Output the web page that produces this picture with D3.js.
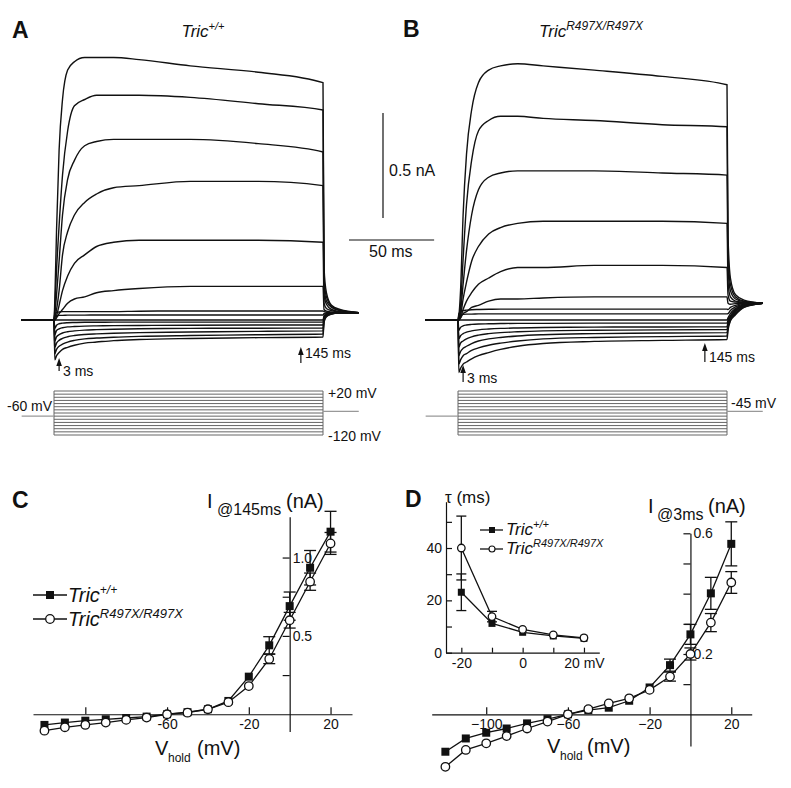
<!DOCTYPE html>
<html><head><meta charset="utf-8">
<script src="https://cdn.jsdelivr.net/npm/d3@7"></script>
<style>
body{margin:0;background:#fff;}
svg{display:block;font-family:"Liberation Sans",Arial,Helvetica,sans-serif;}
</style></head><body>
<svg id="fig" width="791" height="788"></svg>
<script>
// ---------------- DATA ----------------
// Voltage-clamp protocol (mV)
const stepVoltages = [20,10,0,-10,-20,-30,-40,-50,-60,-70,-80,-90,-100,-110,-120];
const holdPre = -60, holdPost = -45;
// Sample times (ms) for the current traces (step from 0 to 158 ms)
const traceTimes = [-19,0,0.5,1.5,3,5,8,12,18,25,35,50,80,120,158,158.6,160,163,168,179];
// Panel A traces (nA), Tric+/+, one row per step voltage
const tracesA = [
 [0,0, 0.1,0.43,0.81,1.05,1.19,1.23,1.25,1.25,1.25,1.24,1.21,1.18,1.13, 0.25,0.13,0.07,0.05,0.035],
 [0,0, 0.06,0.24,0.45,0.69,0.90,1.02,1.05,1.07,1.07,1.07,1.06,1.03,1.00, 0.2,0.11,0.065,0.045,0.035],
 [0,0, 0.03,0.12,0.28,0.50,0.67,0.76,0.83,0.85,0.86,0.86,0.86,0.84,0.80, 0.16,0.09,0.06,0.045,0.035],
 [0,0, 0.01,0.05,0.14,0.31,0.42,0.50,0.56,0.60,0.63,0.64,0.66,0.66,0.64, 0.12,0.075,0.05,0.04,0.035],
 [0,0, 0,0.02,0.07,0.14,0.21,0.27,0.31,0.35,0.37,0.38,0.38,0.38,0.37, 0.08,0.055,0.045,0.038,0.035],
 [0,0, 0,0.01,0.03,0.05,0.08,0.10,0.11,0.13,0.14,0.15,0.16,0.16,0.16, 0.05,0.042,0.038,0.035,0.035],
 [0,0, 0.03,0.035,0.038,0.04,0.04,0.04,0.04,0.04,0.04,0.042,0.043,0.043,0.043, 0.04,0.037,0.035,0.035,0.035],
 [0,0, 0.02,0.02,0.022,0.022,0.023,0.023,0.023,0.024,0.024,0.024,0.024,0.024,0.024, 0.03,0.033,0.035,0.035,0.035],
 [0,0, 0,0,0,0,0,0,0,0,0,0,0,0,0, 0.02,0.03,0.034,0.035,0.035],
 [0,0, -0.04,-0.025,-0.018,-0.015,-0.013,-0.012,-0.011,-0.011,-0.01,-0.01,-0.01,-0.01,-0.01, 0.015,0.027,0.033,0.035,0.035],
 [0,0, -0.07,-0.05,-0.042,-0.037,-0.033,-0.031,-0.029,-0.028,-0.027,-0.026,-0.025,-0.024,-0.024, 0.01,0.025,0.032,0.035,0.035],
 [0,0, -0.10,-0.08,-0.07,-0.062,-0.056,-0.052,-0.048,-0.046,-0.044,-0.042,-0.04,-0.039,-0.038, 0.005,0.022,0.031,0.034,0.035],
 [0,0, -0.13,-0.11,-0.097,-0.088,-0.08,-0.074,-0.069,-0.066,-0.063,-0.06,-0.057,-0.054,-0.052, 0,0.02,0.03,0.034,0.035],
 [0,0, -0.16,-0.14,-0.125,-0.115,-0.105,-0.097,-0.09,-0.086,-0.082,-0.078,-0.074,-0.07,-0.067, -0.005,0.018,0.029,0.034,0.035],
 [0,0, -0.19,-0.17,-0.155,-0.14,-0.13,-0.12,-0.11,-0.105,-0.098,-0.093,-0.088,-0.084,-0.081, -0.01,0.015,0.028,0.033,0.035]
];
// Panel B traces (nA), TricR497X/R497X
const tracesB = [
 [0,0, 0.02,0.14,0.50,0.79,1.0,1.13,1.19,1.21,1.22,1.21,1.19,1.16,1.12, 0.4,0.2,0.12,0.095,0.08],
 [0,0, 0.01,0.07,0.29,0.55,0.76,0.90,0.95,0.97,0.97,0.96,0.95,0.93,0.92, 0.32,0.17,0.11,0.09,0.08],
 [0,0, 0,0.04,0.17,0.33,0.50,0.62,0.68,0.70,0.71,0.71,0.71,0.70,0.69, 0.25,0.14,0.1,0.088,0.08],
 [0,0, 0,0.02,0.10,0.18,0.28,0.35,0.41,0.44,0.46,0.47,0.47,0.47,0.46, 0.18,0.11,0.09,0.085,0.08],
 [0,0, 0,0.01,0.05,0.09,0.13,0.17,0.20,0.23,0.25,0.25,0.26,0.26,0.25, 0.12,0.09,0.085,0.082,0.08],
 [0,0, 0,0.01,0.03,0.04,0.06,0.07,0.09,0.10,0.10,0.105,0.11,0.11,0.11, 0.08,0.075,0.078,0.08,0.08],
 [0,0, 0.03,0.04,0.045,0.047,0.049,0.05,0.051,0.052,0.052,0.052,0.052,0.052,0.052, 0.05,0.06,0.07,0.078,0.08],
 [0,0, 0.02,0.025,0.027,0.028,0.028,0.029,0.029,0.029,0.029,0.029,0.029,0.029,0.029, 0.03,0.045,0.062,0.075,0.08],
 [0,0, 0,0,0,0,0,0,0,0,0,0,0,0,0, 0.01,0.03,0.055,0.072,0.08],
 [0,0, -0.05,-0.035,-0.028,-0.024,-0.021,-0.019,-0.018,-0.017,-0.016,-0.016,-0.015,-0.015,-0.015, 0.0,0.02,0.05,0.07,0.08],
 [0,0, -0.09,-0.075,-0.065,-0.058,-0.052,-0.047,-0.043,-0.04,-0.038,-0.036,-0.034,-0.033,-0.032, -0.01,0.015,0.045,0.068,0.08],
 [0,0, -0.13,-0.11,-0.1,-0.09,-0.08,-0.072,-0.065,-0.06,-0.056,-0.052,-0.049,-0.047,-0.045, -0.02,0.01,0.04,0.066,0.08],
 [0,0, -0.17,-0.15,-0.135,-0.125,-0.112,-0.1,-0.09,-0.083,-0.076,-0.07,-0.065,-0.062,-0.06, -0.03,0.005,0.035,0.064,0.08],
 [0,0, -0.21,-0.19,-0.17,-0.16,-0.145,-0.133,-0.12,-0.11,-0.1,-0.09,-0.083,-0.079,-0.076, -0.04,0,0.03,0.062,0.08],
 [0,0, -0.25,-0.23,-0.21,-0.20,-0.185,-0.17,-0.155,-0.14,-0.125,-0.112,-0.102,-0.097,-0.093, -0.05,-0.005,0.025,0.06,0.08]
];
// I-V data
const ivV = [-120,-110,-100,-90,-80,-70,-60,-50,-40,-30,-20,-10,0,10,20];
const i145WT    = [-0.068,-0.053,-0.041,-0.032,-0.024,-0.015,0,0.013,0.032,0.085,0.24,0.44,0.69,0.935,1.165];
const i145WTerr = [0,0,0,0,0,0,0,0,0,0,0,0.055,0.09,0.11,0.13];
const i145KO    = [-0.105,-0.083,-0.068,-0.053,-0.036,-0.021,0,0.01,0.032,0.077,0.18,0.353,0.6,0.846,1.09];
const i145KOerr = [0,0,0,0,0,0,0,0,0,0,0,0.03,0.05,0.055,0.07];
const i3WT    = [-0.124,-0.080,-0.061,-0.047,-0.030,-0.016,0,0.014,0.022,0.045,0.089,0.163,0.265,0.401,0.565];
const i3WTerr = [0,0,0,0,0,0,0,0,0,0,0,0.02,0.033,0.053,0.073];
const i3KO    = [-0.174,-0.118,-0.096,-0.072,-0.047,-0.024,0,0.017,0.036,0.053,0.081,0.125,0.2,0.304,0.437];
const i3KOerr = [0,0,0,0,0,0,0,0,0,0,0,0.015,0.02,0.03,0.036];
// Inset: activation time constant
const tauV = [-20,-10,0,10,20];
const tauWT = [23.1,11.2,7.8,6.4,5.5];
const tauWTerr = [7,0,0,0,0];
const tauKO = [40,13.8,8.9,6.8,5.7];
const tauKOerr = [12.2,2,0,0,0];
// Labels
const genoWT = "+/+", genoKO = "R497X/R497X";

// ---------------- DRAWING ----------------
const svg = d3.select("#fig");
const ink = "#111";

function tric(g, x, y, size, sup, supSize, anchor){
  const t = g.append("text").attr("x",x).attr("y",y).attr("font-size",size)
    .attr("font-style","italic").attr("text-anchor",anchor||"start").attr("fill",ink);
  t.append("tspan").text("Tric");
  t.append("tspan").attr("font-size",supSize).attr("dy",-size*0.42).text(sup);
  return t;
}
function label(x,y,txt,size,opts){
  opts = opts||{};
  return svg.append("text").attr("x",x).attr("y",y).attr("font-size",size)
    .attr("font-weight",opts.bold?"bold":"normal").attr("text-anchor",opts.anchor||"start")
    .attr("fill",ink).text(txt);
}
function arrowUp(x, yTip, yEnd){
  svg.append("line").attr("x1",x).attr("x2",x).attr("y1",yTip+4).attr("y2",yEnd).attr("stroke",ink).attr("stroke-width",1.2);
  svg.append("path").attr("d",`M${x},${yTip} L${x-2.8},${yTip+8} L${x+2.8},${yTip+8} Z`).attr("fill",ink);
}

// trace scales
const yT = d3.scaleLinear().domain([0,1]).range([320,110]);
const xA = d3.scaleLinear().domain([0,158]).range([54,323]);
const xB = d3.scaleLinear().domain([0,158]).range([458,727]);
const yP = d3.scaleLinear().domain([-120,20]).range([435,391]);

function drawTraces(traces, x){
  const line = d3.line().x((d,i)=>x(traceTimes[i])).y(d=>yT(d)).curve(d3.curveMonotoneX);
  svg.append("g").selectAll("path").data(traces).join("path")
    .attr("d",line).attr("fill","none").attr("stroke",ink).attr("stroke-width",1.4);
}
function drawProtocol(x){
  const g = svg.append("g");
  g.selectAll("line.s").data(stepVoltages).join("line").attr("class","s")
    .attr("x1",x(0)).attr("x2",x(158)).attr("y1",d=>yP(d)).attr("y2",d=>yP(d))
    .attr("stroke","#666").attr("stroke-width",1);
  [0,158].forEach(t=>g.append("line").attr("x1",x(t)).attr("x2",x(t))
    .attr("y1",yP(20)).attr("y2",yP(-120)).attr("stroke","#666").attr("stroke-width",1));
  g.append("line").attr("x1",x(-19)).attr("x2",x(0)).attr("y1",yP(holdPre)).attr("y2",yP(holdPre)).attr("stroke","#999").attr("stroke-width",1.2);
  g.append("line").attr("x1",x(158)).attr("x2",x(179)).attr("y1",yP(holdPost)).attr("y2",yP(holdPost)).attr("stroke","#999").attr("stroke-width",1.2);
}

// Panel A
label(12,38,"A",23,{bold:true});
tric(svg,203,37,17,genoWT,11,"middle");
drawTraces(tracesA,xA);
arrowUp(xA(3),358,371); label(63,376,"3 ms",14);
arrowUp(xA(145),347,363); label(305,358,"145 ms",14);
drawProtocol(xA);
label(7,411,"-60 mV",14);
label(328,398,"+20 mV",14);
label(328,441,"-120 mV",14);

// Panel B
label(403,37,"B",23,{bold:true});
tric(svg,591,37,17,genoKO,12,"middle");
drawTraces(tracesB,xB);
arrowUp(xB(3),365,382); label(467,383,"3 ms",14);
arrowUp(xB(145),343,362); label(709,362,"145 ms",14);
drawProtocol(xB);
label(731,408,"-45 mV",14);

// scale bars
const barX = 383, barBottom = 218;
svg.append("line").attr("x1",barX).attr("x2",barX).attr("y1",barBottom).attr("y2",barBottom-(yT(0)-yT(0.5))).attr("stroke",ink).attr("stroke-width",1.2);
label(389,176,"0.5 nA",16);
svg.append("line").attr("x1",349).attr("x2",349+(xA(50)-xA(0))).attr("y1",240).attr("y2",240).attr("stroke",ink).attr("stroke-width",1.2);
label(369,257,"50 ms",16);

// ---------- Generic IV plot ----------
function styleAxis(g){
  g.selectAll("path.domain").attr("stroke",ink).attr("stroke-width",1.2);
  g.selectAll(".tick line").attr("stroke",ink).attr("stroke-width",1.2);
  g.selectAll(".tick text").attr("fill",ink).attr("font-family","'Liberation Sans',Arial,sans-serif");
}
function series(x,y,vals,errs,vs,kind,size,capW){
  const g = svg.append("g");
  const pts = vs.map((v,i)=>[v,vals[i],errs?errs[i]:0]);
  g.append("path").datum(pts).attr("d",d3.line().x(d=>x(d[0])).y(d=>y(d[1])))
    .attr("fill","none").attr("stroke",ink).attr("stroke-width",1.3);
  const eb = pts.filter(d=>d[2]>0);
  g.selectAll("line.e").data(eb).join("line").attr("class","e")
    .attr("x1",d=>x(d[0])).attr("x2",d=>x(d[0])).attr("y1",d=>y(d[1]-d[2])).attr("y2",d=>y(d[1]+d[2]))
    .attr("stroke",ink).attr("stroke-width",1.3);
  eb.forEach(d=>{
    [d[1]-d[2],d[1]+d[2]].forEach(v=>g.append("line").attr("x1",x(d[0])-capW/2).attr("x2",x(d[0])+capW/2)
      .attr("y1",y(v)).attr("y2",y(v)).attr("stroke",ink).attr("stroke-width",1.3));
  });
  return {g,pts};
}
function markers(s,x,y,kind,size){
  if(kind==="sq"){
    s.g.selectAll("rect").data(s.pts).join("rect").attr("x",d=>x(d[0])-size/2).attr("y",d=>y(d[1])-size/2)
      .attr("width",size).attr("height",size).attr("fill",ink);
  } else {
    s.g.selectAll("circle").data(s.pts).join("circle").attr("cx",d=>x(d[0])).attr("cy",d=>y(d[1]))
      .attr("r",size/2).attr("fill","#fff").attr("stroke",ink).attr("stroke-width",1.3);
  }
}

// Panel C
label(12,508,"C",23,{bold:true});
const xC = d3.scaleLinear().domain([-125.6,30.5]).range([33,352]);
const yC = d3.scaleLinear().domain([-0.11,1.26]).range([731.5,516.8]);
const gxC = svg.append("g").attr("transform",`translate(0,${yC(0)})`)
  .call(d3.axisBottom(xC).tickValues([-100,-60,-20,20]).tickSizeInner(-7).tickSizeOuter(0).tickPadding(5)
  .tickFormat(d=>d===-100?"":d)).attr("font-size",14);
styleAxis(gxC);
const gyC = svg.append("g").attr("transform",`translate(${xC(0)},0)`)
  .call(d3.axisRight(yC).tickValues([0.25,0.5,0.75,1.0]).tickSizeInner(-7).tickSizeOuter(0).tickPadding(3)
  .tickFormat(d=>d===0.5?"0.5":d===1?"1.0":"")).attr("font-size",14);
styleAxis(gyC);
{
  const sW = series(xC,yC,i145WT,i145WTerr,ivV,"sq",8,12);
  const sK = series(xC,yC,i145KO,i145KOerr,ivV,"ci",8,12);
  markers(sW,xC,yC,"sq",8); markers(sK,xC,yC,"ci",8.5);
}
// C axis titles
label(207,508,"I",20);
label(217,515,"@145ms",16);
label(286,508,"(nA)",20);
label(155,755,"V",20);
label(168,762,"hold",12);
label(197,755,"(mV)",20);
// C legend
svg.append("line").attr("x1",33).attr("x2",67).attr("y1",595).attr("y2",595).attr("stroke",ink).attr("stroke-width",1.3);
svg.append("rect").attr("x",46).attr("y",591).attr("width",8).attr("height",8).attr("fill",ink);
tric(svg,68,602,20,genoWT,12);
svg.append("line").attr("x1",33).attr("x2",67).attr("y1",619).attr("y2",619).attr("stroke",ink).attr("stroke-width",1.3);
svg.append("circle").attr("cx",50).attr("cy",619).attr("r",4.3).attr("fill","#fff").attr("stroke",ink).attr("stroke-width",1.3);
tric(svg,68,626,20,genoKO,13);

// Panel D
label(405,507,"D",23,{bold:true});
const xD = d3.scaleLinear().domain([-126.7,30.0]).range([431.7,751.7]);
const yD = d3.scaleLinear().domain([-0.105,0.6]).range([746,533.3]);
const gxD = svg.append("g").attr("transform",`translate(0,${yD(0)})`)
  .call(d3.axisBottom(xD).tickValues([-100,-60,-20,20]).tickSizeInner(-7).tickSizeOuter(0).tickPadding(5))
  .attr("font-size",14);
styleAxis(gxD);
const gyD = svg.append("g").attr("transform",`translate(${xD(0)},0)`)
  .call(d3.axisRight(yD).tickValues([0.1,0.2,0.3,0.4,0.5,0.6]).tickSizeInner(-7).tickSizeOuter(0).tickPadding(3)
  .tickFormat(d=>(Math.abs(d-0.2)<1e-9?"0.2":Math.abs(d-0.6)<1e-9?"0.6":""))).attr("font-size",14);
styleAxis(gyD);
{
  const sW = series(xD,yD,i3WT,i3WTerr,ivV,"sq",8,12);
  const sK = series(xD,yD,i3KO,i3KOerr,ivV,"ci",8,12);
  markers(sW,xD,yD,"sq",8); markers(sK,xD,yD,"ci",8.5);
}
label(648,513,"I",20);
label(657,520,"@3ms",16);
label(708,513,"(nA)",20);
label(547,753,"V",20);
label(560,760,"hold",12);
label(587,753,"(mV)",20);

// Inset
const xI = d3.scaleLinear().domain([-25,25]).range([446,599.3]);
const yI = d3.scaleLinear().domain([0,57.7]).range([652.7,501.7]);
const gxI = svg.append("g").attr("transform",`translate(0,${yI(0)})`)
  .call(d3.axisBottom(xI).tickValues([-20,-10,0,10,20]).tickSizeInner(-5).tickSizeOuter(0).tickPadding(5)
  .tickFormat(d=>d===20?"20 mV":(d===-20||d===0)?d:"")).attr("font-size",14);
styleAxis(gxI);
const gyI = svg.append("g").attr("transform",`translate(${xI(-25)},0)`)
  .call(d3.axisLeft(yI).tickValues([0,10,20,30,40,50]).tickSizeInner(-6).tickSizeOuter(0).tickPadding(4)
  .tickFormat(d=>d%20===0?d:"")).attr("font-size",14);
styleAxis(gyI);
{
  const sW = series(xI,yI,tauWT,tauWTerr,tauV,"sq",7,10);
  const sK = series(xI,yI,tauKO,tauKOerr,tauV,"ci",7,10);
  markers(sW,xI,yI,"sq",7); markers(sK,xI,yI,"ci",7.5);
}
label(445,503,"τ (ms)",17);
// inset legend
svg.append("line").attr("x1",480).attr("x2",503).attr("y1",530).attr("y2",530).attr("stroke",ink).attr("stroke-width",1.3);
svg.append("rect").attr("x",489).attr("y",527).attr("width",6).attr("height",6).attr("fill",ink);
tric(svg,506,535,17,genoWT,11);
svg.append("line").attr("x1",480).attr("x2",503).attr("y1",549).attr("y2",549).attr("stroke",ink).attr("stroke-width",1.3);
svg.append("circle").attr("cx",492).attr("cy",549).attr("r",3).attr("fill","#fff").attr("stroke",ink).attr("stroke-width",1.1);
tric(svg,506,554,17,genoKO,11);
</script></body></html>
